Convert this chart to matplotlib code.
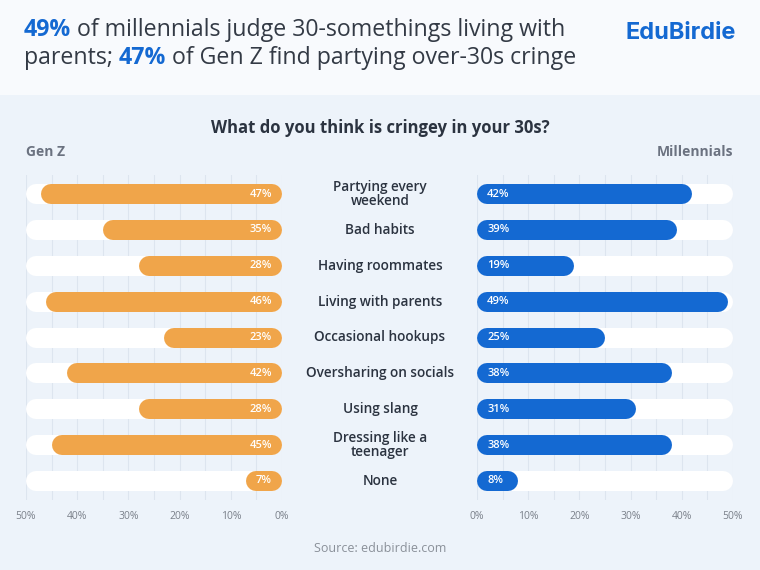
import matplotlib
matplotlib.use("Agg")
import matplotlib.pyplot as plt
from matplotlib.patches import Rectangle

categories = ["Partying every\nweekend", "Bad habits", "Having roommates", "Living with parents",
              "Occasional hookups", "Oversharing on socials", "Using slang",
              "Dressing like a\nteenager", "None"]
genz = [47, 35, 28, 46, 23, 42, 28, 45, 7]
millennials = [42, 39, 19, 49, 25, 38, 31, 38, 8]
tick_vals = [0, 10, 20, 30, 40, 50]

FONT = ["Open Sans", "DejaVu Sans"]
plt.rcParams['font.family'] = FONT
ORANGE = "#f0a54a"
BLUE = "#1469d2"
BG = "#edf3fa"
DARK = "#333a45"

fig = plt.figure(figsize=(7.6, 5.7), dpi=100)
fig.patch.set_facecolor(BG)
fig.add_artist(Rectangle((0, 1 - 95/570), 1, 95/570, transform=fig.transFigure,
                         facecolor="#f8fafd", edgecolor="none", zorder=0))
renderer = fig.canvas.get_renderer()

def chain(x_px, y_px, parts, size):
    x = x_px
    for s, col, w in parts:
        t = fig.text(x / 760, 1 - y_px / 570, s, color=col, fontsize=size, fontweight=w, va="center")
        bb = t.get_window_extent(renderer=renderer)
        x += bb.width

chain(24, 30, [("49%", BLUE, "bold"), (" of millennials judge 30-somethings living with", DARK, "normal")], 16.7)
chain(24, 58, [("parents; ", DARK, "normal"), ("47%", BLUE, "bold"),
               (" of Gen Z find partying over-30s cringe", DARK, "normal")], 16.7)
fig.text(736/760, 1 - 33/570, "EduBirdie", color=BLUE, fontsize=17, fontweight="bold",
         va="center", ha="right", family=["Inter", "DejaVu Sans"])

fig.text(380/760, 1 - 128/570, "What do you think is cringey in your 30s?", color="#2b3340",
         fontsize=12, fontweight="bold", ha="center", va="center")
fig.text(26/760, 1 - 152/570, "Gen Z", color="#6b7280", fontsize=10, fontweight="bold", va="center")
fig.text(733/760, 1 - 152/570, "Millennials", color="#6b7280", fontsize=10, fontweight="bold", va="center", ha="right")
fig.text(380/760, 1 - 548/570, "Source: edubirdie.com", color="#8a9099", fontsize=9, ha="center", va="center")

bottom = 1 - 500/570
height = 325/570
axL = fig.add_axes([26/760, bottom, 256/760, height])
axR = fig.add_axes([477/760, bottom, 256/760, height])

lw_px = 20
lw_pt = lw_px * 72 / 100
pad = (lw_px / 2) / (256 / 50)

for ax, vals, col, left in [(axL, genz, ORANGE, True), (axR, millennials, BLUE, False)]:
    ax.set_facecolor("none")
    ax.set_xlim(50, 0) if left else ax.set_xlim(0, 50)
    ax.set_ylim(8.53, -0.53)
    for x in range(0, 51, 5):
        ax.axvline(x, color="#dde5ef", lw=0.8, zorder=0)
    for i, v in enumerate(vals):
        ax.plot([pad, 50 - pad], [i, i], color="white", lw=lw_pt, solid_capstyle="round", zorder=1)
        ax.plot([pad, max(v - pad, pad)], [i, i], color=col, lw=lw_pt, solid_capstyle="round", zorder=2)
        ax.text(2.0, i, f"{v}%", color="white", fontsize=8, fontweight="semibold",
                ha="right" if left else "left", va="center", zorder=3)
    ax.set_yticks([])
    ax.set_xticks(tick_vals)
    ax.set_xticklabels([f"{t}%" for t in tick_vals], color="#7a808a", fontsize=7.5)
    ax.tick_params(axis="x", length=0, pad=8)
    for s in ax.spines.values():
        s.set_visible(False)

for i, c in enumerate(categories):
    y = 1 - (194 + i * 35.875) / 570
    fig.text(380/760, y, c, color="#2b3340", fontsize=9.8, fontweight="semibold",
             ha="center", va="center", linespacing=1.0)

fig.savefig("out.png", dpi=100, facecolor=fig.get_facecolor())
